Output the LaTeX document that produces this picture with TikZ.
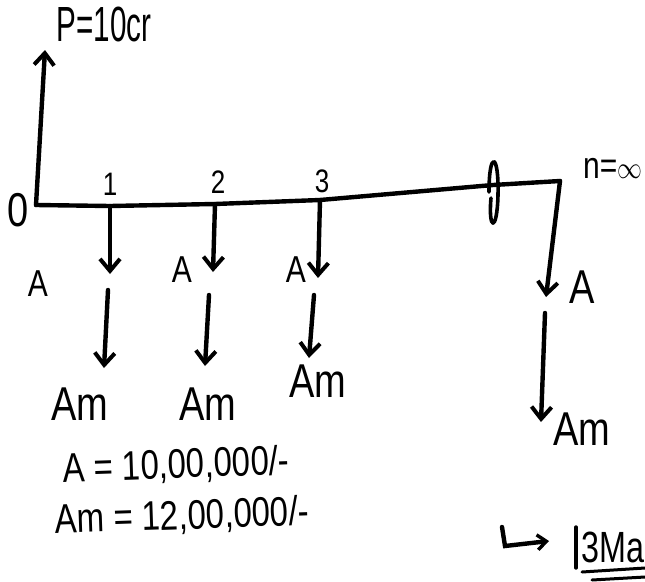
\documentclass[tikz,border=0pt]{standalone}
\usepackage{fontspec}
\setmainfont{Liberation Sans}
\usetikzlibrary{arrows.meta,positioning}
\newcommand{\hand}[1]{\scalebox{1}[1.25]{#1}}
\newcommand{\narrow}[1]{\scalebox{0.78}[1.3]{#1}}

\begin{document}
\begin{tikzpicture}[x=1pt,y=-1pt,
  flow/.style={-{Straight Barb[length=12pt,width=20pt,line width=4pt]},line width=4.4pt,line cap=round},
  pen/.style={line width=4.4pt,line cap=round,line join=round},
  lbl/.style={font=\fontsize{38}{42}\selectfont,inner sep=1pt},
  lsmall/.style={font=\fontsize{30}{34}\selectfont,inner sep=1pt},
  tick/.style={font=\fontsize{26}{30}\selectfont,inner sep=1pt}]
  \useasboundingbox (0,0) rectangle (645,581);
  % time line points
  \coordinate (o) at (36,205);
  \coordinate (t1) at (110,206);
  \coordinate (t2) at (215,204);
  \coordinate (t3) at (320,200);
  \coordinate (brk) at (493,185);
  \coordinate (tn) at (560,181);
  % time line
  \draw[pen] (o) -- (t1) -- (t2) -- (t3) -- (brk) -- (tn);
  % break mark
  \draw[pen,line width=3.6pt] (489,192) .. controls (489,150) and (499,152) .. (498,195)
    .. controls (497,234) and (488,230) .. (491,198);
  % principal
  \coordinate (ptop) at (45,50);
  \draw[flow] (o) -- (ptop);
  \node[lbl] (plbl) at (104,24) {\narrow{P=10cr}};
  \node[lbl] (zero) at (18,210) {\hand{0}};
  \node[tick] (n1) at (110,184) {\hand{1}};
  \node[tick] (n2) at (218,182) {\hand{2}};
  \node[tick] (n3) at (322,181) {\hand{3}};
  \node[lsmall,anchor=west] (nlbl) at (582,168) {\hand{n=$\infty$}};
  % period 1
  \coordinate (a1) at (110,274);
  \coordinate (m1s) at (108,290);
  \coordinate (m1e) at (104,368);
  \draw[flow] (t1) -- (a1);
  \draw[flow] (m1s) -- (m1e);
  \node[lsmall] (la1) at (38,284) {\hand{A}};
  \node[lbl] (lm1) at (80,404) {\hand{Am}};
  % period 2
  \coordinate (a2) at (213,272);
  \coordinate (m2s) at (209,295);
  \coordinate (m2e) at (205,366);
  \draw[flow] (t2) -- (a2);
  \draw[flow] (m2s) -- (m2e);
  \node[lsmall] (la2) at (182,270) {\hand{A}};
  \node[lbl] (lm2) at (208,404) {\hand{Am}};
  % period 3
  \coordinate (a3) at (318,278);
  \coordinate (m3s) at (314,295);
  \coordinate (m3e) at (309,358);
  \draw[flow] (t3) -- (a3);
  \draw[flow] (m3s) -- (m3e);
  \node[lsmall] (la3) at (296,270) {\hand{A}};
  \node[lbl] (lm3) at (318,381) {\hand{Am}};
  % period n
  \coordinate (an) at (546,297);
  \coordinate (mns) at (545,313);
  \coordinate (mne) at (541,422);
  \draw[flow] (tn) -- (an);
  \draw[flow] (mns) -- (mne);
  \node[lbl] (lan) at (582,287) {\hand{A}};
  \node[lbl] (lmn) at (582,429) {\hand{Am}};
  % values
  \node[lsmall,font=\fontsize{33}{36}\selectfont,rotate=2] (va) at (176,466) {\hand{A = 10,00,000/-}};
  \node[lsmall,font=\fontsize{33}{36}\selectfont,rotate=2] (vm) at (182,517) {\hand{Am = 12,00,000/-}};
  % answer
  \coordinate (hk) at (502,527);
  \coordinate (hkc) at (505,546);
  \coordinate (hke) at (549,541);
  \draw[flow,-{Straight Barb[length=9pt,width=15pt,line width=3.4pt]}] (hk) -- (hkc) -- (hke);
  \node[lbl,anchor=west] (ans) at (580,547) {\scalebox{0.85}[1.15]{3Ma}};
  \draw[pen,line width=3.4pt] (576,527) -- (576,568);
  \draw[pen,line width=3pt] (582,572) -- (645,568);
  \draw[pen,line width=3pt] (592,580) -- (645,577);
\end{tikzpicture}
\end{document}
